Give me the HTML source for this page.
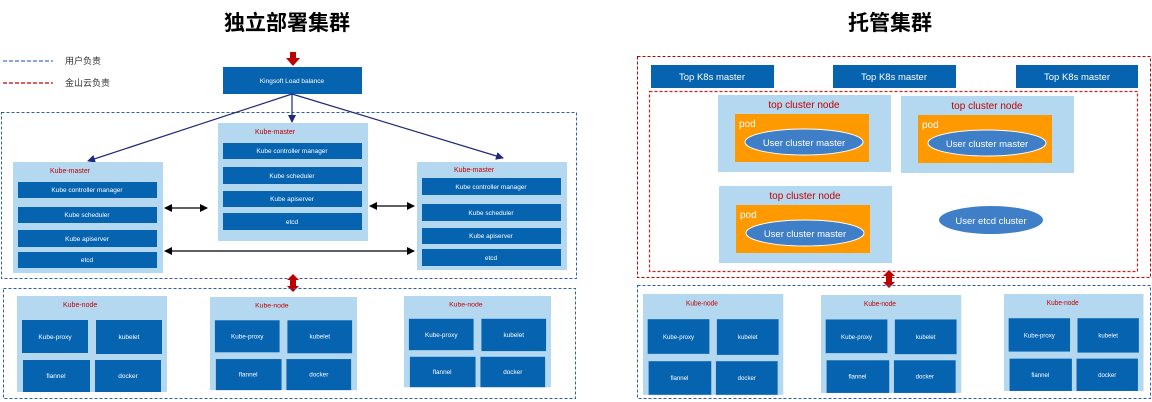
<!DOCTYPE html>
<html><head><meta charset="utf-8"><style>
html,body{margin:0;padding:0;background:#fff;}
svg{display:block;}
text{font-family:"Liberation Sans","Noto Sans CJK SC",sans-serif;}
.w{fill:#fff;font-size:7px;text-anchor:middle;}
.r{fill:#C00000;font-size:7px;}
.db{fill:#0563B0;}
.lb{fill:#B4D8F0;}
</style></head><body>
<svg width="1152" height="402" viewBox="0 0 1152 402" xmlns="http://www.w3.org/2000/svg">
<defs>
<marker id="an" markerWidth="8" markerHeight="8" refX="7" refY="4" orient="auto" markerUnits="userSpaceOnUse"><path d="M0,0 L8,4 L0,8 z" fill="#1F2A7A"/></marker>
<marker id="ab" markerWidth="8" markerHeight="8" refX="7" refY="4" orient="auto-start-reverse" markerUnits="userSpaceOnUse"><path d="M0,0 L8,4 L0,8 z" fill="#000"/></marker>
<g id="knode">
<rect x="0" y="0" width="150" height="96" class="lb"/>
<text x="46" y="11" class="r">Kube-node</text>
<rect x="5" y="24" width="66" height="33" class="db"/><text x="38" y="43" class="w" style="font-size:6.5px">Kube-proxy</text>
<rect x="79" y="24" width="66" height="34" class="db"/><text x="112" y="43" class="w" style="font-size:6.5px">kubelet</text>
<rect x="6" y="64" width="67" height="32" class="db"/><text x="39" y="82" class="w" style="font-size:6.5px">flannel</text>
<rect x="78" y="64" width="66" height="32" class="db"/><text x="111" y="82" class="w" style="font-size:6.5px">docker</text>
</g>
<g id="tnode">
<rect x="0" y="0" width="173" height="77" class="lb"/>
<text x="86" y="13" fill="#C00000" font-size="10" text-anchor="middle">top cluster node</text>
<rect x="17" y="19" width="134" height="48" fill="#FF9900"/>
<text x="21" y="32" fill="#fff" font-size="10">pod</text>
<ellipse cx="86" cy="47" rx="59" ry="13" fill="#3F7FC8" stroke="#fff" stroke-width="1"/>
<text x="86" y="51" fill="#fff" font-size="9.5" text-anchor="middle">User cluster master</text>
</g>
</defs>

<text x="287" y="30" font-size="21" font-weight="bold" text-anchor="middle" fill="#000">独立部署集群</text>
<text x="890" y="30" font-size="21" font-weight="bold" text-anchor="middle" fill="#000">托管集群</text>

<line x1="3" y1="61" x2="53" y2="61" stroke="#4472C4" stroke-width="1.2" stroke-dasharray="4,2"/>
<text x="65" y="64" font-size="9" fill="#333">用户负责</text>
<line x1="3" y1="83" x2="53" y2="83" stroke="#C00000" stroke-width="1.2" stroke-dasharray="4,2"/>
<text x="65" y="86" font-size="9" fill="#333">金山云负责</text>

<path d="M290,52 h6 v6 h4 l-7,8 l-7,-8 h4 z" fill="#C00000"/>

<rect x="223" y="67" width="139" height="27" class="db"/>
<text x="292" y="83" class="w" style="font-size:6.5px">Kingsoft Load balance</text>

<rect x="1.5" y="112.5" width="575" height="166" fill="none" stroke="#2F5EB0" stroke-width="1" stroke-dasharray="3,2"/>

<line x1="292" y1="94" x2="292" y2="122" stroke="#1F2A7A" stroke-width="1.2" marker-end="url(#an)"/>
<line x1="292" y1="94" x2="88" y2="161" stroke="#1F2A7A" stroke-width="1.2" marker-end="url(#an)"/>
<line x1="292" y1="94" x2="503" y2="158" stroke="#1F2A7A" stroke-width="1.2" marker-end="url(#an)"/>

<rect x="13" y="162" width="150" height="111" class="lb"/>
<text x="50" y="173" class="r">Kube-master</text>
<rect x="18" y="182" width="139" height="16" class="db"/><text x="87" y="192" class="w" style="font-size:6.5px">Kube controller manager</text>
<rect x="18" y="207" width="139" height="16" class="db"/><text x="87" y="217" class="w" style="font-size:6.5px">Kube scheduler</text>
<rect x="18" y="230" width="139" height="17" class="db"/><text x="87" y="241" class="w" style="font-size:6.5px">Kube apiserver</text>
<rect x="18" y="252" width="139" height="16" class="db"/><text x="87" y="262" class="w" style="font-size:6.5px">etcd</text>

<rect x="218" y="123" width="150" height="118" class="lb"/>
<text x="255" y="134" class="r">Kube-master</text>
<rect x="223" y="143" width="139" height="16" class="db"/><text x="292" y="153" class="w" style="font-size:6.5px">Kube controller manager</text>
<rect x="223" y="167" width="139" height="17" class="db"/><text x="292" y="178" class="w" style="font-size:6.5px">Kube scheduler</text>
<rect x="223" y="191" width="139" height="16" class="db"/><text x="292" y="201" class="w" style="font-size:6.5px">Kube apiserver</text>
<rect x="223" y="213" width="139" height="17" class="db"/><text x="292" y="224" class="w" style="font-size:6.5px">etcd</text>

<rect x="417" y="162" width="150" height="108" class="lb"/>
<text x="454" y="172" class="r">Kube-master</text>
<rect x="422" y="178" width="139" height="17" class="db"/><text x="491" y="189" class="w" style="font-size:6.5px">Kube controller manager</text>
<rect x="422" y="204" width="139" height="17" class="db"/><text x="491" y="215" class="w" style="font-size:6.5px">Kube scheduler</text>
<rect x="422" y="228" width="139" height="16" class="db"/><text x="491" y="238" class="w" style="font-size:6.5px">Kube apiserver</text>
<rect x="422" y="249" width="139" height="17" class="db"/><text x="491" y="260" class="w" style="font-size:6.5px">etcd</text>

<line x1="165" y1="208" x2="207" y2="208" stroke="#000" stroke-width="1.2" marker-start="url(#ab)" marker-end="url(#ab)"/>
<line x1="370" y1="206" x2="414" y2="206" stroke="#000" stroke-width="1.2" marker-start="url(#ab)" marker-end="url(#ab)"/>
<line x1="165" y1="251" x2="414" y2="251" stroke="#000" stroke-width="1.2" marker-start="url(#ab)" marker-end="url(#ab)"/>

<path d="M293,274 l6,6 h-3 v6 h3 l-6,6 l-6,-6 h3 v-6 h-3 z" fill="#C00000"/>

<rect x="3.5" y="288.5" width="572" height="110" fill="none" stroke="#2F5EB0" stroke-width="1" stroke-dasharray="3,2"/>
<use href="#knode" x="17" y="296"/>
<use href="#knode" transform="translate(210,297) scale(0.98,0.97)"/>
<use href="#knode" transform="translate(404,296) scale(0.98,0.95)"/>

<rect x="637.5" y="56.5" width="513" height="221" fill="none" stroke="#C00000" stroke-width="1" stroke-dasharray="3,2"/>
<rect x="651" y="65" width="123" height="23" class="db"/><text x="712" y="80" fill="#fff" font-size="9.5" text-anchor="middle">Top K8s master</text>
<rect x="833" y="65" width="123" height="23" class="db"/><text x="894" y="80" fill="#fff" font-size="9.5" text-anchor="middle">Top K8s master</text>
<rect x="1016" y="65" width="122" height="23" class="db"/><text x="1077" y="80" fill="#fff" font-size="9.5" text-anchor="middle">Top K8s master</text>
<rect x="649.5" y="91.5" width="488" height="180" fill="none" stroke="#D02020" stroke-width="1.2" stroke-dasharray="3,2"/>
<use href="#tnode" x="718" y="95"/>
<use href="#tnode" x="901" y="96"/>
<use href="#tnode" x="719" y="186"/>
<ellipse cx="991" cy="220" rx="52" ry="14" fill="#3F7FC8"/>
<text x="991" y="224" fill="#fff" font-size="9.5" text-anchor="middle">User etcd cluster</text>

<path d="M889,270 l6,6 h-3 v6 h3 l-6,6 l-6,-6 h3 v-6 h-3 z" fill="#C00000"/>

<rect x="637.5" y="285.5" width="513" height="113" fill="none" stroke="#2F5EB0" stroke-width="1" stroke-dasharray="3,2"/>
<use href="#knode" transform="translate(643,294) scale(0.935,1.05)"/>
<use href="#knode" transform="translate(821,295) scale(0.935,1.02)"/>
<use href="#knode" transform="translate(1004,294) scale(0.93,1.01)"/>
</svg>
</body></html>
